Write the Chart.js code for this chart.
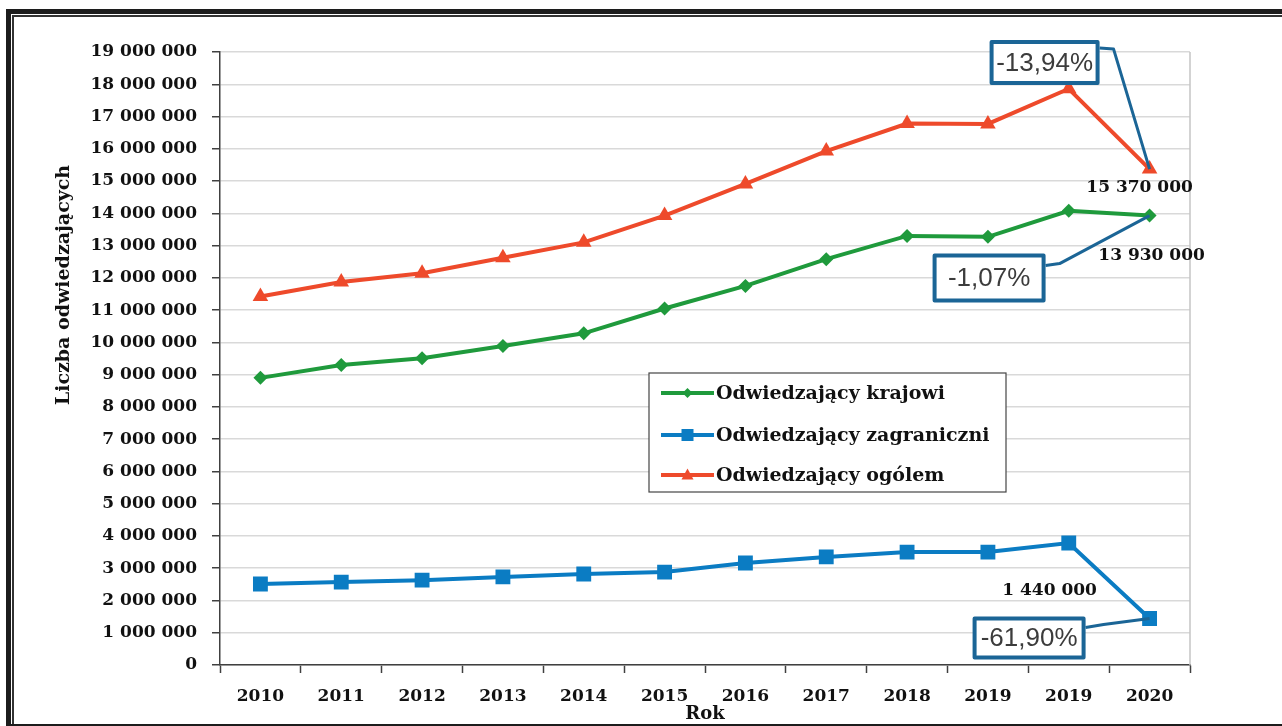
<!DOCTYPE html>
<html><head><meta charset="utf-8">
<script src="https://cdn.jsdelivr.net/npm/chart.js@4.4.1/dist/chart.umd.min.js"></script>
<style>
html,body{margin:0;padding:0;background:#fff;}
#wrap{position:relative;width:1282px;height:726px;overflow:hidden;background:#fff;}
canvas{position:absolute;left:0;top:0;}
.f{position:absolute;background:#1c1c1c;}
</style></head><body>
<div id="wrap"><canvas id="c" width="1282" height="726"></canvas>
<div class="f" style="left:6px;top:9px;width:1276px;height:5px"></div>
<div class="f" style="left:6px;top:9px;width:5px;height:717px"></div>
<div class="f" style="left:12px;top:15px;width:1270px;height:2px;background:#333"></div>
<div class="f" style="left:12px;top:15px;width:2px;height:711px;background:#333"></div>
<div class="f" style="left:6px;top:724px;width:1276px;height:2px"></div>
</div>
<script>
const categories = ['2010','2011','2012','2013','2014','2015','2016','2017','2018','2019','2019','2020'];
const krajowi     = [8900000, 9300000, 9510000, 9890000, 10280000, 11050000, 11750000, 12580000, 13300000, 13270000, 14080000, 13930000];
const zagraniczni = [2510000, 2570000, 2630000, 2730000, 2820000, 2880000, 3160000, 3350000, 3500000, 3500000, 3780000, 1440000];
const ogolem      = [11420000, 11870000, 12140000, 12620000, 13100000, 13930000, 14910000, 15930000, 16780000, 16770000, 17860000, 15370000];
const seriesNames = ['Odwiedzający krajowi', 'Odwiedzający zagraniczni', 'Odwiedzający ogólem'];
const changeLabels = ['-1,07%', '-61,90%', '-13,94%'];
const yTitle = 'Liczba odwiedzających';
const xTitle = 'Rok';

const GREEN = '#1f9a3c', BLUE = '#0b7cc3', RED = '#ee4a2b', CALLOUT = '#1b6596';
const SERIF = '"DejaVu Serif", "Liberation Serif", serif';
const fmt = v => String(Math.round(v)).replace(/\B(?=(\d{3})+(?!\d))/g, ' ');

function drawMarker(ctx, style, x, y, r, color) {
  ctx.save();
  ctx.fillStyle = color;
  ctx.beginPath();
  if (style === 'rectRot') {
    ctx.moveTo(x, y - r); ctx.lineTo(x + r, y); ctx.lineTo(x, y + r); ctx.lineTo(x - r, y);
  } else if (style === 'rect') {
    ctx.rect(x - r, y - r, 2 * r, 2 * r);
  } else {
    ctx.moveTo(x, y - r * 1.1); ctx.lineTo(x + r, y + r * 0.75); ctx.lineTo(x - r, y + r * 0.75);
  }
  ctx.closePath();
  ctx.fill();
  ctx.restore();
}

const extras = {
  id: 'extras',
  afterDraw(chart) {
    const ctx = chart.ctx;
    const ca = chart.chartArea;
    ctx.save();
    // right border of plot area
    ctx.strokeStyle = '#c4c4c4'; ctx.lineWidth = 1.5;
    ctx.beginPath(); ctx.moveTo(ca.right, ca.top); ctx.lineTo(ca.right, ca.bottom); ctx.stroke();

    // axis titles
    ctx.fillStyle = '#111';
    ctx.font = 'bold 19px ' + SERIF;
    ctx.textAlign = 'center'; ctx.textBaseline = 'middle';
    ctx.save(); ctx.translate(64, 285); ctx.rotate(-Math.PI / 2); ctx.fillText(yTitle, 0, 0); ctx.restore();
    ctx.font = 'bold 18px ' + SERIF;
    ctx.fillText(xTitle, (ca.left + ca.right) / 2, 714);

    // legend
    const lx = 649, ly = 373, lw = 357, lh = 119;
    ctx.fillStyle = '#fff'; ctx.fillRect(lx, ly, lw, lh);
    ctx.strokeStyle = '#454545'; ctx.lineWidth = 1.2; ctx.strokeRect(lx, ly, lw, lh);
    const rows = [393, 435, 475];
    chart.data.datasets.forEach((ds, i) => {
      const y = rows[i];
      ctx.strokeStyle = ds.borderColor; ctx.lineWidth = 4;
      ctx.beginPath(); ctx.moveTo(661, y); ctx.lineTo(714, y); ctx.stroke();
      drawMarker(ctx, ds.pointStyle, 687.5, y, ds.pointStyle === 'rectRot' ? 5 : 6, ds.borderColor);
      ctx.fillStyle = '#111'; ctx.font = 'bold 19px ' + SERIF;
      ctx.textAlign = 'left'; ctx.textBaseline = 'middle';
      ctx.fillText(ds.label, 716, y + 1);
    });

    // last-point value labels and change callouts
    const cfg = [
      { ds: 0, lab: [2, 40],   box: [-215, 40, 109, 45], lead: [[-104, 50], [-90, 48]] },
      { ds: 1, lab: [-100, -28], box: [-175, 0, 109, 39], lead: [[-64, 9], [-46, 6]] },
      { ds: 2, lab: [-10, 18], box: [-158, -127, 106, 41], lead: [[-50, -121], [-36, -120]] }
    ];
    cfg.forEach((c, k) => {
      const meta = chart.getDatasetMeta(c.ds);
      const pt = meta.data[meta.data.length - 1];
      const px = pt.x, py = pt.y;
      const vals = chart.data.datasets[c.ds].data;
      ctx.strokeStyle = CALLOUT; ctx.lineWidth = 3; ctx.lineJoin = 'round';
      ctx.beginPath();
      ctx.moveTo(px + c.lead[0][0], py + c.lead[0][1]);
      ctx.lineTo(px + c.lead[1][0], py + c.lead[1][1]);
      ctx.lineTo(px, py);
      ctx.stroke();
      const bx = px + c.box[0], by = py + c.box[1];
      ctx.fillStyle = '#fff'; ctx.fillRect(bx, by, c.box[2], c.box[3]);
      ctx.strokeStyle = CALLOUT; ctx.lineWidth = 4; ctx.strokeRect(bx, by, c.box[2], c.box[3]);
      ctx.fillStyle = '#3c3c3c'; ctx.font = '26px "Liberation Sans", Arial, sans-serif';
      ctx.textAlign = 'center'; ctx.textBaseline = 'middle';
      ctx.fillText(changeLabels[k], bx + c.box[2] / 2, by + c.box[3] / 2 + 1);
      ctx.fillStyle = '#111'; ctx.font = 'bold 17px ' + SERIF;
      ctx.fillText(fmt(vals[vals.length - 1]), px + c.lab[0], py + c.lab[1]);
    });
    ctx.restore();
  }
};

new Chart(document.getElementById('c'), {
  type: 'line',
  data: {
    labels: categories,
    datasets: [
      { label: seriesNames[0], data: krajowi, borderColor: GREEN, backgroundColor: GREEN, pointStyle: 'rectRot', pointRadius: 7, borderWidth: 4, pointBorderWidth: 0, tension: 0 },
      { label: seriesNames[1], data: zagraniczni, borderColor: BLUE, backgroundColor: BLUE, pointStyle: 'rect', pointRadius: 10.5, borderWidth: 4, pointBorderWidth: 0, tension: 0 },
      { label: seriesNames[2], data: ogolem, borderColor: RED, backgroundColor: RED, pointStyle: 'triangle', pointRadius: 9, borderWidth: 4, pointBorderWidth: 0, tension: 0 }
    ]
  },
  options: {
    responsive: false,
    animation: false,
    layout: { padding: { left: 0, right: 92, top: 52, bottom: 16 } },
    plugins: { legend: { display: false }, tooltip: { enabled: false } },
    scales: {
      x: {
        offset: true,
        afterFit: s => { s.height = 45; },
        grid: { display: true, drawOnChartArea: false, offset: true, tickLength: 8, tickColor: '#404040', tickWidth: 1.5 },
        border: { color: '#404040', width: 1.5 },
        ticks: { color: '#111', font: { family: SERIF, size: 17, weight: 'bold' }, padding: 13, autoSkip: false, maxRotation: 0 }
      },
      y: {
        min: 0, max: 19000000,
        afterFit: s => { s.width = 220; },
        grid: { color: '#d9d9d9', lineWidth: 1.5, tickLength: 8, tickColor: '#404040', tickWidth: 1.5 },
        border: { color: '#404040', width: 1.5 },
        ticks: { stepSize: 1000000, autoSkip: false, color: '#111', font: { family: SERIF, size: 17, weight: 'bold' }, padding: 15, callback: v => fmt(v) }
      }
    }
  },
  plugins: [extras]
});
</script>
</body></html>
